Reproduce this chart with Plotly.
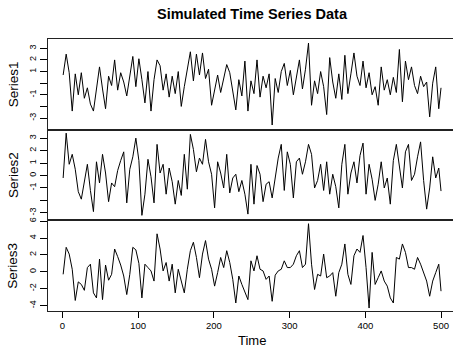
import plotly.graph_objects as go
from plotly.subplots import make_subplots

time = list(range(1, 498, 4)) + [500]

series1 = [
    0.7, 2.5, 0.9, -2.4, 0.8, -1.0, 0.9, -1.3, -0.4, -1.8,
    -2.4, -0.6, 1.4, -0.5, -2.2, 0.6, -0.2, 2.0, -0.6, 0.9,
    0.1, -1.1, 0.5, 2.3, -0.3, 2.1, 0.3, -1.7, 1.0, -2.4,
    0.3, 2.0, 1.5, -0.6, 0.8, -1.2, 0.6, -0.9, 1.0, -2.0,
    -0.3, 1.3, 2.7, 0.2, 2.5, 0.7, 2.6, 0.4, 1.2, -1.9,
    -0.5, 0.7, -0.8, 0.4, 1.6, 0.9, -0.6, -2.3, 0.3, -1.1,
    1.9, -2.4, 0.2, -0.9, 2.0, -1.2, 0.6, -0.4, 0.8, -3.6,
    0.4, -0.8, 1.0, 1.7, -0.2, 1.1, -1.0, 0.5, 2.0, -0.5,
    1.2, 3.45, -1.9, 0.2, -0.9, 1.0, -0.3, -2.7, 2.2, 0.1,
    -1.3, 0.8, -1.4, 2.4, -0.9, 0.8, 2.6, 0.6, -0.2, 1.9,
    -0.4, 0.9, -1.0, -0.3, -1.9, 1.4, -0.6, 0.3, -1.0, 0.5,
    -0.8, 2.9, -1.6, 1.9, 0.3, 1.4, -0.2, -0.9, 0.6, -0.3,
    0.1, -2.9, 0.0, 1.4, -2.2, -0.4,
]

series2 = [
    -0.2, 3.4, 0.9, 1.7, 0.5, -1.3, -1.9, -0.4, 0.9, -1.2,
    -2.9, 1.1, -0.6, 1.7, 0.2, -2.1, -0.6, -0.9, 0.4, 1.2,
    1.9, -2.2, 0.5, 1.5, 3.0, 1.2, -3.2, -1.5, 1.3, -0.1,
    -2.2, 2.5, 0.2, 0.9, -1.5, 0.6, -0.5, -2.3, -0.4, -1.6,
    1.7, -1.1, 3.3, 2.1, 0.3, 1.4, 0.9, 2.9, 1.1, 0.1,
    -2.6, 1.1, 0.2, -1.0, 1.7, -1.4, -0.2, 0.1, -1.3, -0.4,
    -1.5, -3.1, 0.9, -2.3, 0.8, 0.1, -2.1, -0.7, -0.5, -1.8,
    -0.2, 1.4, 2.5, -1.2, 1.9, 0.9, -1.8, 1.1, 1.4, 0.1,
    1.1, 2.5, 1.7, -1.0, -0.4, 0.9, -1.2, 1.1, -1.5, 0.1,
    -0.9, -2.6, 0.9, 2.5, -1.5, 0.2, 1.1, -0.6, 1.6, 2.6,
    -1.5, 0.9, -0.3, -2.0, -0.7, 1.1, -1.0, -0.2, -2.3, 1.2,
    2.5, 0.9, -1.0, 1.9, 2.5, -0.4, 0.1, 1.5, 2.7, -0.4,
    -2.7, -1.0, 1.5, -0.2, 0.6, -1.25,
]

series3 = [
    -0.3, 2.9, 2.1, 0.3, -3.4, -1.2, -1.5, -2.2, 0.5, 0.9,
    -2.5, -3.1, 1.5, -3.3, 0.8, -1.0, -0.3, 2.7, 1.8, 0.8,
    -0.5, -2.7, -0.3, 2.9, 2.6, 1.0, -3.1, 0.9, 0.5, 0.1,
    -1.1, 4.5, 2.7, 0.1, 1.1, -1.1, 0.9, -2.5, 0.3, -1.3,
    -2.5, 0.3, 2.5, 3.5, 1.7, -0.7, 2.1, 3.7, 1.5, 0.3,
    -1.7, -0.1, 1.7, 0.5, 2.5, 1.1, -0.9, -3.7, -0.5, -1.5,
    -2.3, -3.3, 1.3, 0.1, 1.9, 0.3, 0.1, -0.9, -0.5, -3.5,
    -0.4, 0.1, 0.3, 1.3, 0.5, 0.5, 0.9, 1.9, 2.5, 0.5,
    0.9, 5.7, 0.9, -2.1, -0.3, -0.5, 2.1, -0.7, -0.5, -0.1,
    -2.9, -0.1, 0.9, 3.3, -0.3, -1.5, 1.9, 2.7, 2.3, 4.3,
    0.5, -4.3, 2.3, -1.5, -0.7, 0.1, -1.1, -1.7, -3.1, -3.7,
    1.7, 1.5, 3.3, 2.3, 0.5, 0.5, 0.3, 1.7, 0.9, -0.1,
    -1.1, -2.9, -1.1, -0.1, 0.9, -2.3,
]

series_names = ["Series1", "Series2", "Series3"]
series_values = [series1, series2, series3]

x_tickvals = [0, 100, 200, 300, 400, 500]
y_tickvals = [
    [-3, -2, -1, 0, 1, 2, 3],
    [-3, -2, -1, 0, 1, 2, 3],
    [-4, -2, 0, 2, 4, 6],
]
y_ticktext = [
    ["-3", "", "-1", "", "1", "2", "3"],
    ["-3", "", "-1", "0", "1", "2", "3"],
    ["-4", "-2", "0", "2", "4", "6"],
]
y_ranges = [[-4.0, 3.8], [-3.6, 3.68], [-4.65, 6.1]]

FONT = "Liberation Sans, Arial, Helvetica, sans-serif"

fig = make_subplots(rows=3, cols=1, shared_xaxes=True, vertical_spacing=0)

for i, (name, vals) in enumerate(zip(series_names, series_values)):
    r = i + 1
    fig.add_trace(
        go.Scatter(x=time, y=vals, mode="lines",
                   line=dict(color="black", width=1),
                   showlegend=False, hoverinfo="skip"),
        row=r, col=1,
    )
    fig.update_yaxes(
        range=y_ranges[i], tickvals=y_tickvals[i], ticktext=y_ticktext[i],
        tickangle=-90, ticks="outside", ticklen=7, tickwidth=1, tickcolor="black",
        showline=True, linecolor="#222", linewidth=1, mirror=False,
        showgrid=False, zeroline=False,
        tickfont=dict(family=FONT, size=9, color="black"),
        row=r, col=1,
    )
    last = (r == 3)
    fig.update_xaxes(
        range=[-19, 515.8],
        tickvals=x_tickvals,
        ticks="outside" if last else "",
        ticklen=6, tickwidth=1, tickcolor="black",
        showticklabels=last,
        showline=True, linecolor="#222", linewidth=1, mirror=True,
        showgrid=False, zeroline=False,
        tickfont=dict(family=FONT, size=9.5, color="black"),
        row=r, col=1,
    )

W, H = 453, 348
ml, mr, mt, mb = 48, 0, 39, 37
plot_h = H - mt - mb
plot_w = W - ml - mr

annotations = []
centers = [(1 - 1/6), 0.5, 1/6]
for name, yc in zip(series_names, centers):
    annotations.append(dict(
        text=name, xref="paper", yref="paper",
        x=(13 - ml) / plot_w, y=yc, xanchor="center", yanchor="middle",
        textangle=-90, showarrow=False,
        font=dict(family=FONT, size=13.5, color="black"),
    ))
annotations.append(dict(
    text="Time", xref="paper", yref="paper",
    x=(252 - ml) / plot_w, y=-(340 - (H - mb)) / plot_h,
    xanchor="center", yanchor="middle", showarrow=False,
    font=dict(family=FONT, size=13, color="black"),
))

fig.update_layout(
    width=W, height=H,
    margin=dict(l=ml, r=mr, t=mt, b=mb),
    paper_bgcolor="white", plot_bgcolor="white",
    title=dict(text="<b>Simulated Time Series Data</b>",
               x=(252 - ml) / plot_w, xref="paper", xanchor="center",
               y=1 - 14 / H, yref="container", yanchor="middle",
               font=dict(family=FONT, size=14.5, color="black")),
    annotations=annotations,
    showlegend=False,
)

fig.write_html(
    "out.html",
    config={"displayModeBar": False, "staticPlot": True},
    post_script="document.body.style.margin='0';document.body.style.overflow='hidden';",
)
